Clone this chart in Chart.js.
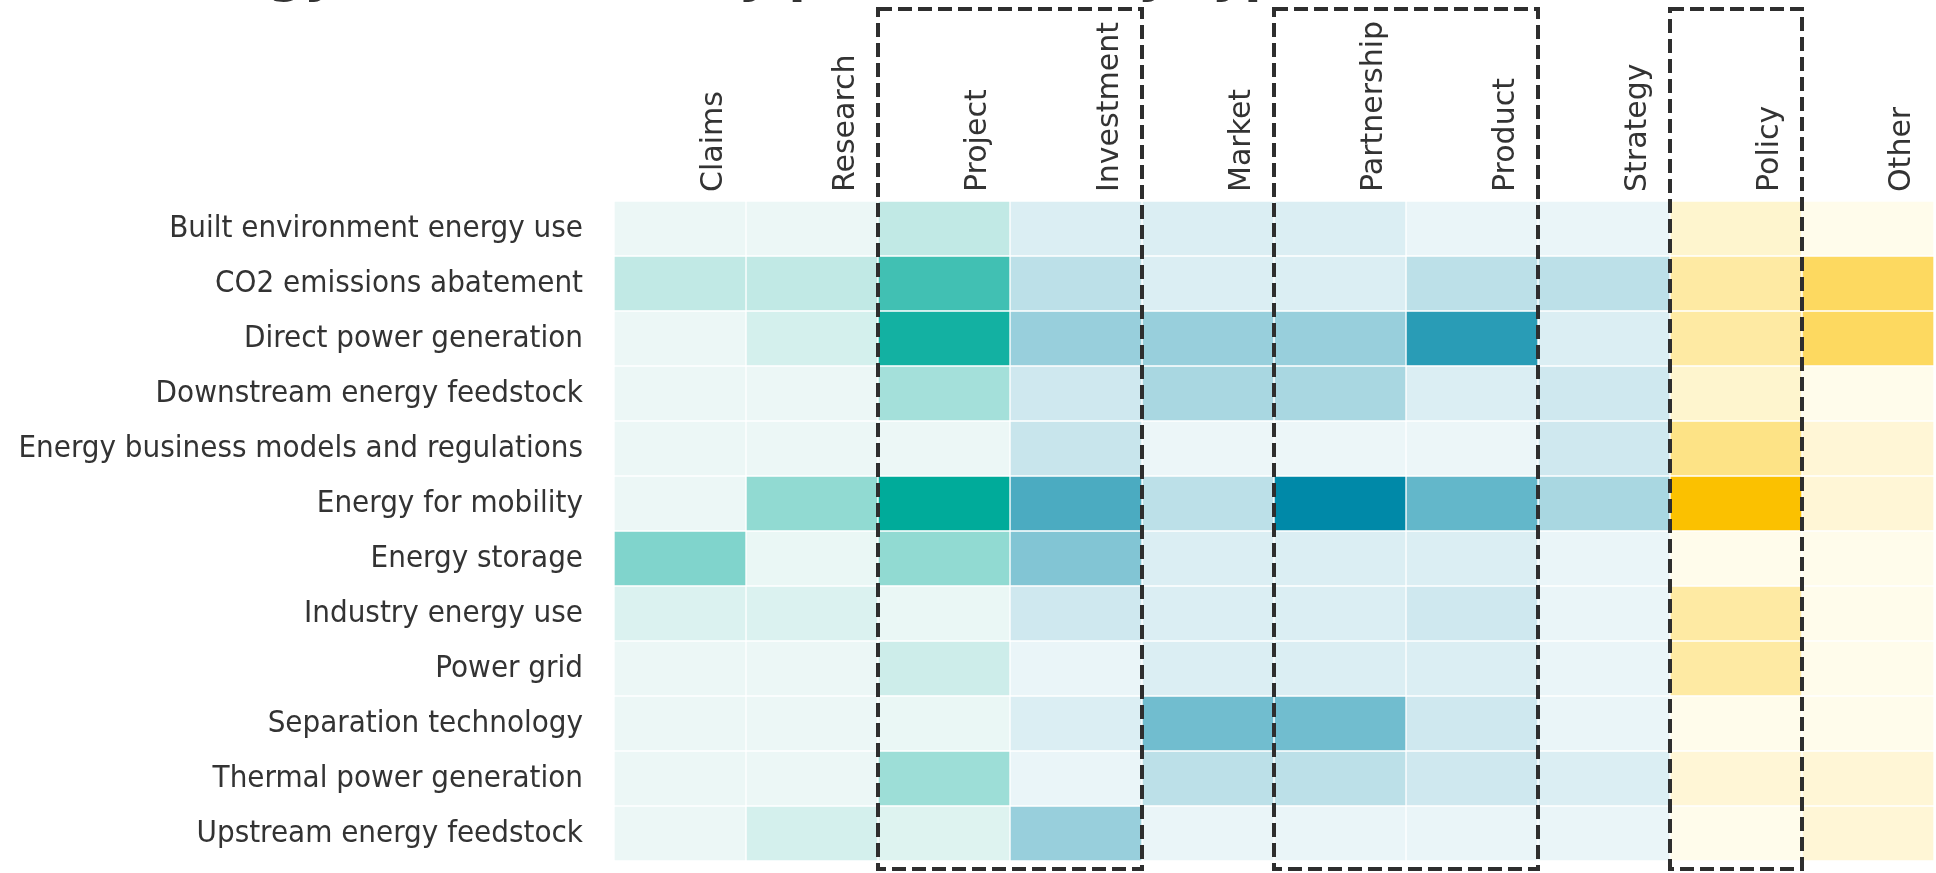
<!DOCTYPE html>
<html>
<head>
<meta charset="utf-8">
<script src="https://cdn.jsdelivr.net/npm/chart.js@4.4.1/dist/chart.umd.min.js"></script>
<style>
  html, body { margin: 0; padding: 0; background: #fff; overflow: hidden; }
  #wrap { position: relative; width: 1936px; height: 873px; }
  #title {
    position: absolute; left: 140px; top: -50px;
    font: bold 50px 'DejaVu Sans', sans-serif; line-height: 50px;
    color: #333; white-space: nowrap;
  }
</style>
</head>
<body>
<div id="wrap">
  <canvas id="heatmap" width="1936" height="873"></canvas>
  <div id="title">Energy sub-themes by press activity type</div>
</div>
<script>
const subThemes = [
  'Built environment energy use',
  'CO2 emissions abatement',
  'Direct power generation',
  'Downstream energy feedstock',
  'Energy business models and regulations',
  'Energy for mobility',
  'Energy storage',
  'Industry energy use',
  'Power grid',
  'Separation technology',
  'Thermal power generation',
  'Upstream energy feedstock'
];

const activityTypes = ['Claims', 'Research', 'Project', 'Investment', 'Market',
  'Partnership', 'Product', 'Strategy', 'Policy', 'Other'];

// intensity per column, top row to bottom row (share of the colour group's max)
const claims      = [2, 20, 2, 2, 2, 2, 47, 9, 2, 2, 2, 2];
const research    = [2, 20, 12, 2, 2, 40, 3, 9, 2, 2, 2, 12];
const project     = [20, 73, 92, 32, 2, 100, 40, 3, 15, 3, 35, 8];
const investment  = [9, 22, 37, 14, 17, 69, 46, 14, 3, 9, 3, 37];
const market      = [9, 9, 37, 30, 2, 22, 9, 9, 9, 53, 22, 3];
const partnership = [9, 9, 37, 30, 2, 100, 9, 9, 9, 53, 22, 3];
const product     = [3, 22, 83, 9, 2, 59, 9, 14, 9, 14, 14, 3];
const strategy    = [3, 22, 9, 14, 14, 30, 3, 3, 3, 3, 9, 3];
const policy      = [14, 32, 32, 14, 44, 100, 2, 32, 32, 2, 11, 2];
const other       = [2, 60, 60, 2, 11, 11, 2, 2, 2, 2, 11, 11];

const columnValues = [claims, research, project, investment, market,
  partnership, product, strategy, policy, other];

const colorGroup = ['teal', 'teal', 'teal', 'blue', 'blue', 'blue', 'blue', 'blue', 'gold', 'gold'];
const boxedGroups = [['Project', 'Investment'], ['Partnership', 'Product'], ['Policy']];

const palettes = {
  teal: { light: [241, 249, 248], dark: [0, 171, 154] },
  blue: { light: [241, 248, 250], dark: [0, 137, 168] },
  gold: { light: [255, 253, 240], dark: [251, 193, 0] }
};

function shade(group, v) {
  const p = palettes[group];
  const t = v / 100;
  const c = p.light.map((l, i) => Math.round(l + (p.dark[i] - l) * t));
  return `rgb(${c[0]}, ${c[1]}, ${c[2]})`;
}

const dashedBoxes = {
  id: 'dashedBoxes',
  afterDraw(chart) {
    const { ctx, chartArea, scales: { x } } = chart;
    ctx.save();
    ctx.strokeStyle = '#2e2e2e';
    ctx.lineWidth = 4;
    ctx.setLineDash([14, 6]);
    boxedGroups.forEach(names => {
      const first = activityTypes.indexOf(names[0]);
      const last = activityTypes.indexOf(names[names.length - 1]) + 1;
      const x1 = x.getPixelForValue(first);
      const x2 = x.getPixelForValue(last);
      const top = 9;
      const bottom = chartArea.bottom + 8;
      ctx.strokeRect(x1, top, x2 - x1, bottom - top);
    });
    ctx.restore();
  }
};

new Chart(document.getElementById('heatmap'), {
  type: 'bar',
  data: {
    labels: subThemes,
    datasets: activityTypes.map((name, j) => ({
      label: name,
      data: columnValues[j].map(() => [j, j + 1]),
      backgroundColor: columnValues[j].map(v => shade(colorGroup[j], v)),
      borderColor: '#ffffff',
      borderWidth: 1,
      borderSkipped: false,
      barPercentage: 1,
      categoryPercentage: 1,
      grouped: false
    }))
  },
  options: {
    indexAxis: 'y',
    responsive: false,
    animation: false,
    layout: { padding: { top: 0, right: 2, bottom: 12, left: 0 } },
    plugins: {
      legend: { display: false },
      tooltip: { enabled: false }
    },
    scales: {
      x: {
        type: 'linear',
        position: 'top',
        min: 0,
        max: activityTypes.length,
        grid: { display: false, drawTicks: false },
        border: { display: false },
        afterBuildTicks: axis => {
          axis.ticks = activityTypes.map((_, i) => ({ value: i + 0.5 }));
        },
        afterFit: axis => {
          axis.height = 201;
          axis.paddingLeft = 0;
          axis.paddingRight = 0;
        },
        ticks: {
          autoSkip: false,
          minRotation: 90,
          maxRotation: 90,
          padding: 9,
          labelOffset: 70,
          color: '#333',
          font: { family: "'DejaVu Sans', sans-serif", size: 30 },
          callback: value => activityTypes[Math.floor(value)]
        }
      },
      y: {
        type: 'category',
        grid: { display: false, drawTicks: false },
        border: { display: false },
        afterFit: axis => {
          axis.width = 614;
          axis.paddingTop = 0;
          axis.paddingBottom = 0;
        },
        ticks: {
          padding: 31,
          color: '#333',
          font: { family: "'DejaVu Sans Condensed', 'Liberation Sans Narrow', 'DejaVu Sans', sans-serif", size: 31 }
        }
      }
    }
  },
  plugins: [dashedBoxes]
});
</script>
</body>
</html>
